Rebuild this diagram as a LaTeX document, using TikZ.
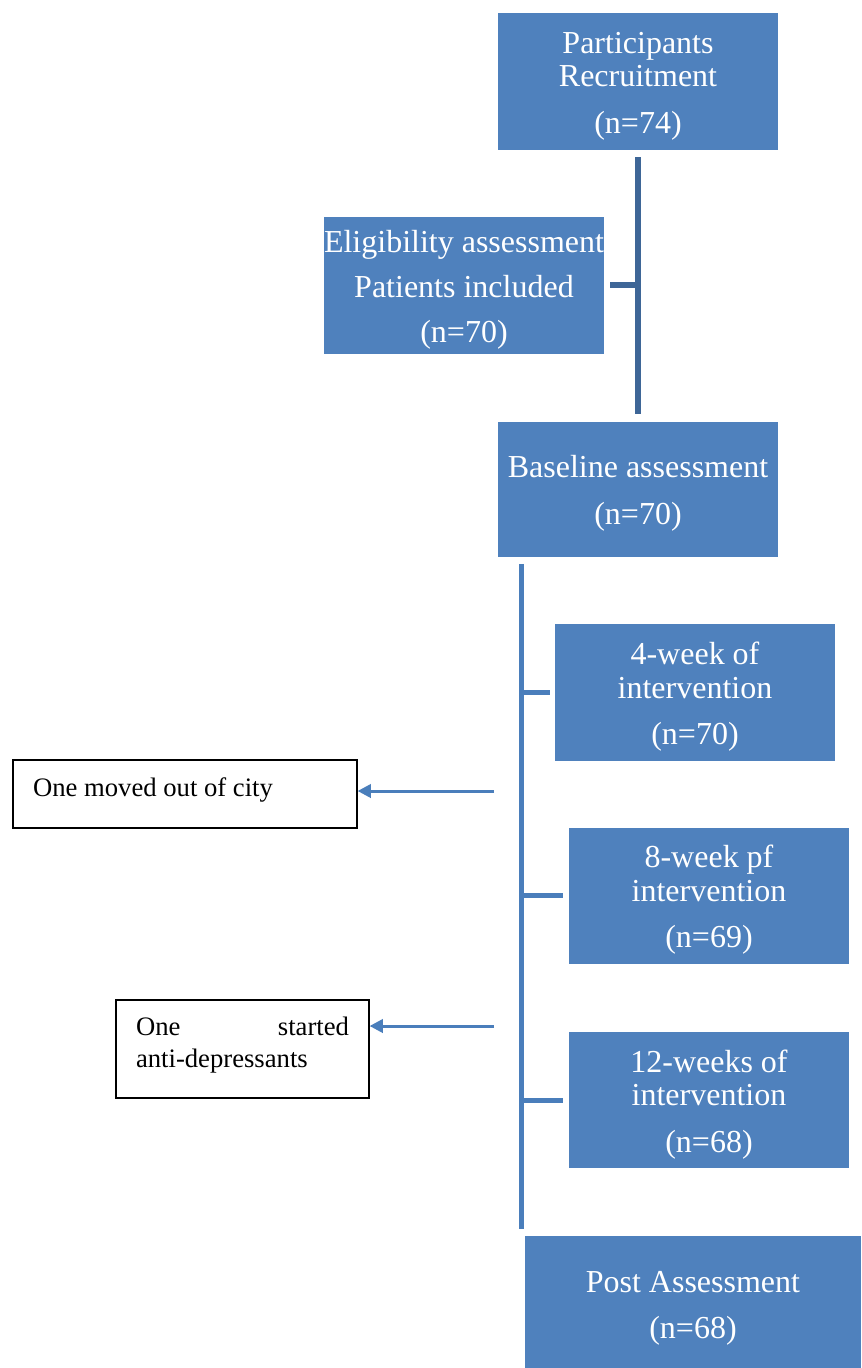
\documentclass[tikz,border=0pt]{standalone}
\usepackage{xcolor}
\usepackage{fontspec}
\setmainfont{Liberation Serif}
\usepackage{tikz}
\usetikzlibrary{positioning}
\usetikzlibrary{arrows.meta}

\definecolor{boxblue}{HTML}{4F81BD}
\definecolor{linedark}{HTML}{3E6697}
\definecolor{lineblue}{HTML}{4A7EBB}

\tikzset{
	stage/.style={rectangle, fill=boxblue, text=white, align=flush center, inner sep=0pt,
		text width=210pt, minimum height=102.75pt, font=\fontsize{24}{25}\selectfont,
		execute at end node=\par\vspace{-6.5pt}},
	dropout/.style={rectangle, draw=black, line width=0.9pt, fill=white, align=flush left,
		inner xsep=15pt, inner ysep=0pt, font=\fontsize{20}{24}\selectfont,
		execute at end node=\par\vspace{6pt}},
	spine/.style={lineblue, line width=3.75pt},
	drop/.style={lineblue, line width=2.25pt, -{Triangle[length=10pt,width=10pt]}}
}

\begin{document}
\begin{tikzpicture}[x=0.75pt,y=-0.75pt]
	\useasboundingbox (0,0) rectangle (861,1368);

	\node[stage] (recruit) at (638,81.5) {Participants\\Recruitment\\[10pt](n=74)};
	\node[stage] (elig) at (464,285) {Eligibility assessment\\[8.75pt]Patients included\\[8.75pt](n=70)};
	\node[stage, minimum height=101.25pt] (base) [below = 203.25pt of recruit] {Baseline assessment\\[10pt](n=70)};

	\draw[linedark, line width=4.5pt, shorten <=5.25pt, shorten >=5.25pt] (recruit) -- (base);
	\draw[linedark, line width=4.5pt, shorten <=4.5pt] (elig.east) -- (elig.east -| recruit.south);

	\node[stage] (w4) at (695,692.5) {4-week of\\intervention\\[10pt](n=70)};
	\node[stage, minimum height=102pt] (w8) [below = 49.5pt of w4, xshift=10.5pt] {8-week pf\\intervention\\[10pt](n=69)};
	\node[stage, minimum height=102pt] (w12) [below = 51pt of w8] {12-weeks of\\intervention\\[10pt](n=68)};
	\node[stage, text width=252pt] (post) [below = 50.25pt of w12, xshift=-12pt] {Post Assessment\\[10pt](n=68)};

	% timeline
	\coordinate (spinetop) at ([xshift=18pt,yshift=-5.25pt]base.south west);
	\coordinate (spinebot) at ([yshift=4.5pt]spinetop |- post.north);
	\draw[spine] (spinetop) -- (spinebot);
	\foreach \s/\gap in {w4/3.75pt, w8/4.5pt, w12/4.5pt}
		\draw[spine, shorten >=\gap] (spinetop |- \s.west) -- (\s.west);

	% drop outs
	\node[dropout, text width=228pt, minimum height=51pt] (out1) at (185,794) {One moved out of city};
	\node[dropout, text width=159.75pt, minimum height=73.5pt] (out2) at (242.5,1049) {One\hfill started\\anti-depressants};

	\coordinate (d1) at (494,791);
	\coordinate (d2) at (494,1026);
	\draw[drop] (d1) -- (d1 -| out1.east);
	\draw[drop] (d2) -- (d2 -| out2.east);
\end{tikzpicture}
\end{document}
